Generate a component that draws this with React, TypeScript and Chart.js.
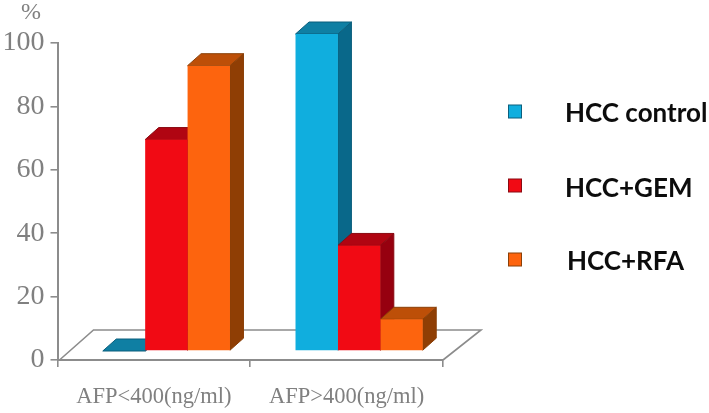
import React, { useEffect, useRef } from "react";
import { Chart, registerables } from "chart.js";

Chart.register(...registerables);

const categories = ["AFP<400(ng/ml)", "AFP>400(ng/ml)"];
const seriesNames = ["HCC control", "HCC+GEM", "HCC+RFA"];
const hccControl = [0, 100];
const hccGem = [66.7, 33.3];
const hccRfa = [90, 10];
const yTicks = [0, 20, 40, 60, 80, 100];

const frontColors = ["#10aede", "#f10a14", "#fd640e"];
const topColors = ["#0f7fa3", "#b00512", "#bd4f08"];
const sideColors = ["#09688a", "#96000f", "#8f3e04"];
const edgeColors = ["#0b5f7d", "#8a0a12", "#8a4008"];
const axisColor = "#8c8c8c";
const textColor = "#808080";

const SHIFT_X = 12.5;
const SHIFT_Y = -9;
const DEPTH_X = 13.5;
const DEPTH_Y = -12;

const poly = (ctx: CanvasRenderingContext2D, pts: number[][], fill: string, stroke?: string) => {
  ctx.beginPath();
  pts.forEach(([x, y], i) => (i ? ctx.lineTo(x, y) : ctx.moveTo(x, y)));
  ctx.closePath();
  ctx.fillStyle = fill;
  ctx.fill();
  if (stroke) {
    ctx.strokeStyle = stroke;
    ctx.lineWidth = 1;
    ctx.stroke();
  }
};

const box3d = {
  id: "box3d",
  beforeDatasetsDraw(chart: any) {
    const { ctx, chartArea: a } = chart;
    ctx.save();
    // floor
    ctx.strokeStyle = axisColor;
    ctx.lineWidth = 1.6;
    ctx.beginPath();
    ctx.moveTo(a.left + 2, a.bottom);
    ctx.lineTo(a.left + 36, a.bottom - 30);
    ctx.lineTo(a.right + 38, a.bottom - 30);
    ctx.lineTo(a.right, a.bottom);
    ctx.stroke();
    // side and top faces, left to right
    const metas = chart.getSortedVisibleDatasetMetas();
    for (let c = 0; c < categories.length; c++) {
      metas.forEach((m: any, d: number) => {
        const el = m.data[c];
        const half = el.width / 2;
        const l = el.x - half + SHIFT_X;
        const r = el.x + half + SHIFT_X;
        const t = el.y + SHIFT_Y;
        const b = el.base + SHIFT_Y;
        poly(ctx, [[r, t], [r + DEPTH_X, t + DEPTH_Y], [r + DEPTH_X, b + DEPTH_Y], [r, b]], sideColors[d], edgeColors[d]);
        poly(ctx, [[l, t], [l + DEPTH_X, t + DEPTH_Y], [r + DEPTH_X, t + DEPTH_Y], [r, t]], topColors[d], edgeColors[d]);
      });
    }
    ctx.restore();
    ctx.save();
    ctx.translate(SHIFT_X, SHIFT_Y);
  },
  afterDatasetsDraw(chart: any) {
    chart.ctx.restore();
  },
  afterDraw(chart: any) {
    const { ctx } = chart;
    ctx.save();
    ctx.textBaseline = "middle";
    // unit label
    ctx.fillStyle = textColor;
    ctx.font = '24px "Liberation Serif"';
    ctx.textAlign = "left";
    ctx.fillText("%", 21, 13);
    // legend
    const rows = [
      { y: 112, textX: 565, textY: 114 },
      { y: 186, textX: 565, textY: 189 },
      { y: 260, textX: 567, textY: 262 },
    ];
    rows.forEach((row, i) => {
      ctx.fillStyle = frontColors[i];
      ctx.strokeStyle = edgeColors[i];
      ctx.lineWidth = 1;
      ctx.fillRect(508.5, row.y - 7, 13, 13);
      ctx.strokeRect(508.5, row.y - 7, 13, 13);
      ctx.fillStyle = "#0c0c0c";
      ctx.font = 'bold 26px "Lato"';
      ctx.fillText(seriesNames[i], row.textX, row.textY);
    });
    ctx.restore();
  },
};

export default function App() {
  const ref = useRef<HTMLCanvasElement>(null);
  useEffect(() => {
    const chart = new Chart(ref.current as HTMLCanvasElement, {
      type: "bar",
      data: {
        labels: categories,
        datasets: [hccControl, hccGem, hccRfa].map((data, i) => ({
          label: seriesNames[i],
          data,
          backgroundColor: frontColors[i],
          borderWidth: 0,
          categoryPercentage: 0.66,
          barPercentage: 1,
          clip: false as any,
        })),
      },
      plugins: [box3d],
      options: {
        responsive: false,
        animation: false,
        layout: { padding: { left: 0, right: 266, top: 43, bottom: 0 } },
        plugins: { legend: { display: false }, tooltip: { enabled: false }, title: { display: false } },
        scales: {
          x: {
            grid: { drawOnChartArea: false, color: axisColor, tickLength: 7, lineWidth: 1.6 },
            border: { color: axisColor, width: 2 },
            ticks: { color: textColor, font: { family: "Liberation Serif", size: 22.5 }, padding: 17, maxRotation: 0 },
            afterFit: (s: any) => { s.height = 53; },
          },
          y: {
            min: 0,
            max: 100,
            afterBuildTicks: (s: any) => { s.ticks = yTicks.map((value) => ({ value })); },
            grid: { drawOnChartArea: false, color: axisColor, tickLength: 7, lineWidth: 1.6 },
            border: { color: axisColor, width: 2 },
            ticks: { color: textColor, font: { family: "Liberation Serif", size: 28 }, padding: 6 },
            afterFit: (s: any) => { s.width = 57.5; },
          },
        },
      },
    });
    return () => chart.destroy();
  }, []);
  return (
    <div style={{ position: "absolute", left: 0, top: 0, background: "#fff" }}>
      <canvas ref={ref} width={709} height={413} style={{ display: "block" }} />
    </div>
  );
}
